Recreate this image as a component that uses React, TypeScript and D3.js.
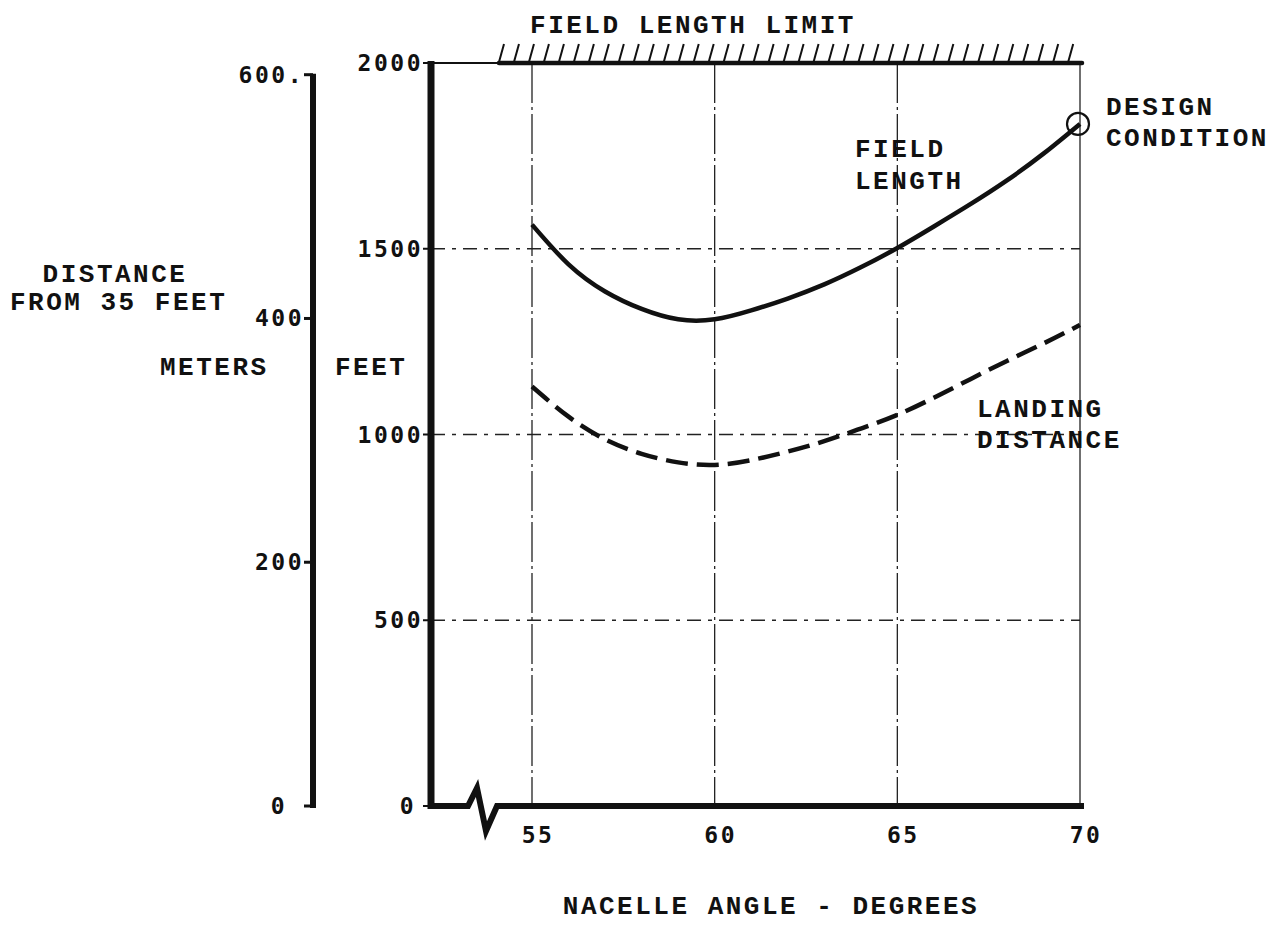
import React from "react";
import * as d3 from "d3";

// Nacelle angle (degrees) at which each curve is sampled
const angles = [55, 56, 57, 58, 59, 60, 61, 62, 63, 64, 65, 66, 67, 68, 69, 70];
// Field length, feet
const fieldLength = [1565, 1458, 1385, 1338, 1310, 1310, 1334, 1366, 1404, 1450, 1502, 1560, 1620, 1684, 1756, 1836];
// Landing distance, feet
const landingDistance = [1129, 1048, 987, 948, 925, 918, 931, 954, 982, 1016, 1053, 1099, 1149, 1198, 1245, 1295];

const xTicks = [55, 60, 65, 70];
const feetTicks = [0, 500, 1000, 1500, 2000];
const meterTicks = [0, 200, 400, 600];
const designPoint = { angle: 70, feet: 1836 };

const FT_PER_M = 3.28084;

const W = 1273;
const H = 932;

const x = d3.scaleLinear().domain([55, 70]).range([532, 1080]);
const y = d3.scaleLinear().domain([0, 2000]).range([806, 63]);
const yM = (m: number) => y(m * FT_PER_M);

const axisX = 431; // feet axis
const mAxisX = 313; // meters axis
const x0 = y(0);
const yTop = y(2000);

const mono = "'Liberation Mono', 'Courier New', monospace";
const numFont = "'DejaVu Sans Mono', monospace";

export default function App() {
  const line = d3
    .line<number>()
    .x((_, i) => x(angles[i]))
    .y((d) => y(d))
    .curve(d3.curveNatural);

  // hatching along the field length limit
  const hatchStart = x.invert(499);
  const hatches = d3.range(hatchStart, 70.05, 0.41);

  // axis break along the bottom
  const breakPath = [
    [axisX, x0],
    [468, x0],
    [477, 788],
    [486, 831],
    [497, x0],
    [x(70) + 4, x0],
  ];

  const labelStyle: React.CSSProperties = {
    fontFamily: mono,
    fontWeight: 700,
    fontSize: 26,
    letterSpacing: 2.5,
    fill: "#111",
  };
  const numStyle: React.CSSProperties = {
    fontFamily: numFont,
    fontWeight: 700,
    fontSize: 23,
    letterSpacing: 2.5,
    fill: "#111",
  };

  return (
    <svg
      width={W}
      height={H}
      style={{ position: "absolute", left: 0, top: 0, background: "#fff" }}
    >
      <rect width={W} height={H} fill="#fff" />

      {/* horizontal grid */}
      {feetTicks
        .filter((t) => t > 0 && t < 2000)
        .map((t) => (
          <line
            key={"hg" + t}
            x1={axisX}
            x2={x(70)}
            y1={y(t)}
            y2={y(t)}
            stroke="#222"
            strokeWidth={1.3}
            strokeDasharray="14,7,4,7"
          />
        ))}

      {/* vertical grid */}
      {xTicks.map((t) => (
        <line
          key={"vg" + t}
          x1={x(t)}
          x2={x(t)}
          y1={yTop}
          y2={x0}
          stroke="#222"
          strokeWidth={1.3}
          strokeDasharray={t === 70 ? undefined : "40,4,3,4"}
        />
      ))}

      {/* top border and field length limit */}
      <line x1={axisX} x2={500} y1={yTop} y2={yTop} stroke="#111" strokeWidth={2} />
      <line x1={499} x2={x(70) + 2} y1={yTop} y2={yTop} stroke="#111" strokeWidth={4.5} strokeLinecap="round" />
      {hatches.map((h, i) => (
        <line
          key={"h" + i}
          x1={x(h)}
          y1={yTop - 1}
          x2={x(h) + 5}
          y2={yTop - 19}
          stroke="#111"
          strokeWidth={2}
        />
      ))}
      <text x={693} y={33} textAnchor="middle" style={labelStyle}>
        FIELD LENGTH LIMIT
      </text>

      {/* feet axis */}
      <line x1={axisX} x2={axisX} y1={yTop - 2} y2={x0 + 3} stroke="#111" strokeWidth={7} />
      {feetTicks.map((t) => (
        <g key={"ft" + t}>
          <line x1={axisX - 8} x2={axisX} y1={y(t)} y2={y(t)} stroke="#111" strokeWidth={2} />
          <text
            x={t === 0 ? 416 : 423}
            y={y(t) + 8}
            textAnchor="end"
            style={numStyle}
          >
            {String(t)}
          </text>
        </g>
      ))}

      {/* meters axis */}
      <line x1={mAxisX} x2={mAxisX} y1={yM(600) - 1} y2={yM(0) + 2} stroke="#111" strokeWidth={6} />
      {meterTicks.map((t) => (
        <g key={"mt" + t}>
          <line x1={mAxisX - 9} x2={mAxisX} y1={yM(t)} y2={yM(t)} stroke="#111" strokeWidth={3} />
          <text
            x={t === 0 ? 287 : 304}
            y={yM(t) + 8}
            textAnchor="end"
            style={numStyle}
          >
            {t === 600 ? "600." : String(t)}
          </text>
        </g>
      ))}

      {/* bottom axis with break */}
      <path
        d={d3.line()(breakPath as [number, number][]) || ""}
        fill="none"
        stroke="#111"
        strokeWidth={6}
        strokeLinejoin="miter"
      />
      {xTicks.map((t) => (
        <text key={"xt" + t} x={x(t) + 6} y={843} textAnchor="middle" style={numStyle}>
          {String(t)}
        </text>
      ))}

      {/* curves */}
      <path d={line(fieldLength) || ""} fill="none" stroke="#111" strokeWidth={4.5} />
      <path
        d={line(landingDistance) || ""}
        fill="none"
        stroke="#111"
        strokeWidth={4.5}
        strokeDasharray="22,9"
      />
      <circle
        cx={x(designPoint.angle) - 2}
        cy={y(designPoint.feet)}
        r={11}
        fill="none"
        stroke="#111"
        strokeWidth={2.2}
      />

      {/* annotations */}
      <text x={855} y={157} style={labelStyle}>FIELD</text>
      <text x={855} y={189} style={labelStyle}>LENGTH</text>
      <text x={977} y={417} style={labelStyle}>LANDING</text>
      <text x={977} y={448} style={labelStyle}>DISTANCE</text>
      <text x={1106} y={115} style={labelStyle}>DESIGN</text>
      <text x={1106} y={146} style={labelStyle}>CONDITION</text>

      {/* axis titles */}
      <text x={115} y={282} textAnchor="middle" style={labelStyle}>DISTANCE</text>
      <text x={10} y={310} style={labelStyle}>FROM 35 FEET</text>
      <text x={160} y={375} style={labelStyle}>METERS</text>
      <text x={335} y={375} style={labelStyle}>FEET</text>
      <text x={771} y={914} textAnchor="middle" style={labelStyle}>
        NACELLE ANGLE - DEGREES
      </text>
    </svg>
  );
}
